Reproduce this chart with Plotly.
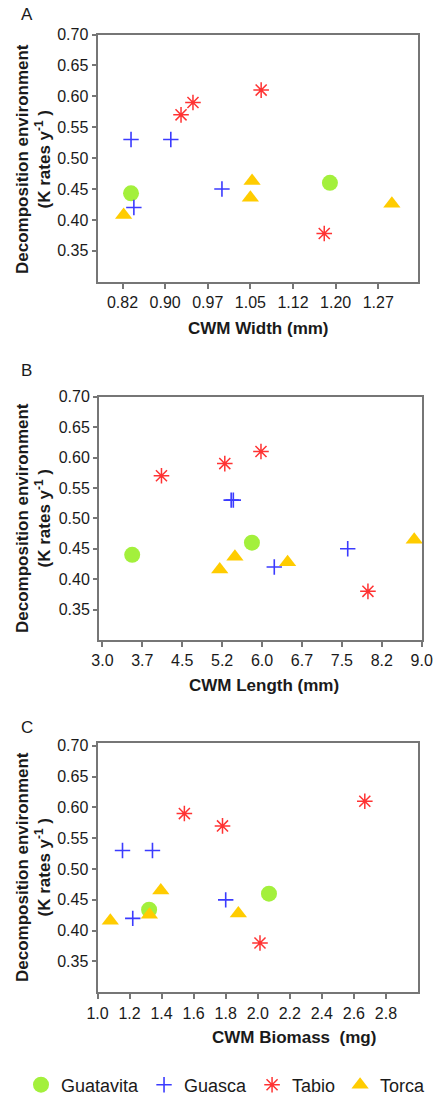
import plotly.graph_objects as go

# ---------------- data ----------------
sites = ["Guatavita", "Guasca", "Tabio", "Torca"]

# Panel A: CWM Width (mm)
guatavita_width = [0.840, 1.190]
guatavita_k_width = [0.443, 0.460]
guasca_width = [0.840, 0.910, 1.000, 0.845]
guasca_k_width = [0.530, 0.530, 0.450, 0.420]
tabio_width = [0.928, 0.949, 1.069, 1.180]
tabio_k_width = [0.570, 0.590, 0.610, 0.378]
torca_width = [0.827, 1.053, 1.050, 1.299]
torca_k_width = [0.408, 0.463, 0.436, 0.426]

# Panel B: CWM Length (mm)
guatavita_length = [3.56, 5.81]
guatavita_k_length = [0.440, 0.460]
guasca_length = [5.42, 5.46, 6.23, 7.61]
guasca_k_length = [0.530, 0.530, 0.420, 0.450]
tabio_length = [4.11, 5.30, 5.98, 7.99]
tabio_k_length = [0.570, 0.590, 0.610, 0.380]
torca_length = [5.205, 5.49, 6.48, 8.86]
torca_k_length = [0.416, 0.437, 0.428, 0.465]

# Panel C: CWM Biomass (mg)
guatavita_biomass = [1.322, 2.070]
guatavita_k_biomass = [0.434, 0.460]
guasca_biomass = [1.156, 1.343, 1.800, 1.220]
guasca_k_biomass = [0.530, 0.530, 0.450, 0.420]
tabio_biomass = [1.542, 1.780, 2.668, 2.014]
tabio_k_biomass = [0.590, 0.570, 0.610, 0.380]
torca_biomass = [1.080, 1.324, 1.395, 1.879]
torca_k_biomass = [0.416, 0.426, 0.465, 0.428]

# tick labels
y_ticks = [0.35, 0.40, 0.45, 0.50, 0.55, 0.60, 0.65, 0.70]
width_tickvals = [0.825, 0.900, 0.975, 1.050, 1.125, 1.200, 1.275]
width_ticktext = ["0.82", "0.90", "0.97", "1.05", "1.12", "1.20", "1.27"]
length_tickvals = [3.0, 3.75, 4.5, 5.25, 6.0, 6.75, 7.5, 8.25, 9.0]
length_ticktext = ["3.0", "3.7", "4.5", "5.2", "6.0", "6.7", "7.5", "8.2", "9.0"]
biomass_tickvals = [1.0, 1.2, 1.4, 1.6, 1.8, 2.0, 2.2, 2.4, 2.6, 2.8]
biomass_ticktext = ["1.0", "1.2", "1.4", "1.6", "1.8", "2.0", "2.2", "2.4", "2.6", "2.8"]

# ---------------- style ----------------
W, H = 438, 1098
FONT = "Liberation Sans, Arial, sans-serif"
styles = {
    "Guatavita": dict(symbol="circle", size=16, color="#a3f03c", line=dict(width=0)),
    "Guasca": dict(symbol="cross-thin", size=11, color="#3b3bff", line=dict(width=1.6, color="#3b3bff")),
    "Tabio": dict(symbol="asterisk-open", size=13, color="#ff3333", line=dict(width=1.5, color="#ff3333")),
    "Torca": dict(symbol="triangle-up", size=15, color="#ffcc00", line=dict(width=0)),
}

panels = [
    dict(xs=[guatavita_width, guasca_width, tabio_width, torca_width],
         ys=[guatavita_k_width, guasca_k_width, tabio_k_width, torca_k_width]),
    dict(xs=[guatavita_length, guasca_length, tabio_length, torca_length],
         ys=[guatavita_k_length, guasca_k_length, tabio_k_length, torca_k_length]),
    dict(xs=[guatavita_biomass, guasca_biomass, tabio_biomass, torca_biomass],
         ys=[guatavita_k_biomass, guasca_k_biomass, tabio_k_biomass, torca_k_biomass]),
]

fig = go.Figure()
for p, panel in enumerate(panels):
    sfx = "" if p == 0 else str(p + 1)
    for s, name in enumerate(sites):
        fig.add_trace(go.Scatter(
            x=panel["xs"][s], y=panel["ys"][s], mode="markers", name=name,
            legendgroup=name, showlegend=(p == 0),
            marker=styles[name], xaxis="x" + sfx, yaxis="y" + sfx,
            cliponaxis=False,
        ))

def px_x(a, b):
    return [a / W, b / W]

def px_y(top, bottom):
    return [1 - bottom / H, 1 - top / H]

axis_common = dict(
    showline=True, linecolor="#767676", linewidth=2, mirror=True,
    ticks="outside", tickcolor="#767676", tickwidth=1.5,
    showgrid=False, zeroline=False, automargin=False,
    ticklabeloverflow="allow",
    tickfont=dict(family=FONT, size=16, color="#1a1a1a"),
)

layout_axes = {}
xdefs = [
    (px_x(97.5, 418), [0.781, 1.345], width_tickvals, width_ticktext),
    (px_x(99, 422), [2.936, 9.006], length_tickvals, length_ticktext),
    (px_x(97.5, 418), [1.0, 3.0], biomass_tickvals, biomass_ticktext),
]
ydefs = [
    (px_y(34.5, 281.7), [0.300, 0.700]),
    (px_y(396.7, 640), [0.300, 0.700]),
    (px_y(742.7, 992.3), [0.300, 0.705]),
]
for i in range(3):
    sfx = "" if i == 0 else str(i + 1)
    xd, xr, tv, tt = xdefs[i]
    yd, yr = ydefs[i]
    layout_axes["xaxis" + sfx] = dict(axis_common, domain=xd, range=xr, tickvals=tv, ticktext=tt,
                                      ticklen=5, anchor="y" + sfx)
    layout_axes["yaxis" + sfx] = dict(axis_common, domain=yd, range=yr, tickvals=y_ticks,
                                      tickformat=".2f", ticklen=4, anchor="x" + sfx)

annotations = []
# panel letters
for letter, (x, y) in zip(["A", "B", "C"], [(27, 14), (26, 370), (27, 727)]):
    annotations.append(dict(text=letter, x=x / W, y=1 - y / H, xref="paper", yref="paper",
                            showarrow=False, xanchor="center", yanchor="middle",
                            font=dict(family=FONT, size=17, color="#1a1a1a")))
# x titles
for text, (x, y) in zip(["CWM Width (mm)", "CWM Length (mm)", "CWM Biomass  (mg)"],
                        [(258, 329), (264, 685), (294, 1037)]):
    annotations.append(dict(text="<b>" + text.replace("  ", "&nbsp; ") + "</b>", x=x / W, y=1 - y / H,
                            xref="paper", yref="paper", showarrow=False,
                            xanchor="center", yanchor="middle",
                            font=dict(family=FONT, size=17, color="#1a1a1a")))
# y titles
for yc in [159, 518, 867]:
    annotations.append(dict(text="<b>Decomposition environment<br>(K rates y<sup>-1</sup> )</b>",
                            x=33 / W, y=1 - yc / H, xref="paper", yref="paper",
                            showarrow=False, textangle=-90, xanchor="center", yanchor="middle",
                            font=dict(family=FONT, size=17, color="#1a1a1a")))

fig.update_layout(
    template="none",
    width=W, height=H,
    margin=dict(l=0, r=0, t=0, b=0, autoexpand=False),
    paper_bgcolor="white", plot_bgcolor="white",
    showlegend=True,
    legend=dict(orientation="h", x=226 / W, xanchor="center", y=1 - 1085 / H, yanchor="middle",
                font=dict(family=FONT, size=18, color="#1a1a1a"),
                itemwidth=30, tracegroupgap=0, bgcolor="rgba(0,0,0,0)"),
    annotations=annotations,
    **layout_axes,
)

fig.write_html(
    "out.html",
    config={"displayModeBar": False},
    post_script="document.documentElement.style.margin='0';document.body.style.margin='0';"
                "document.body.style.overflow='hidden';",
)
